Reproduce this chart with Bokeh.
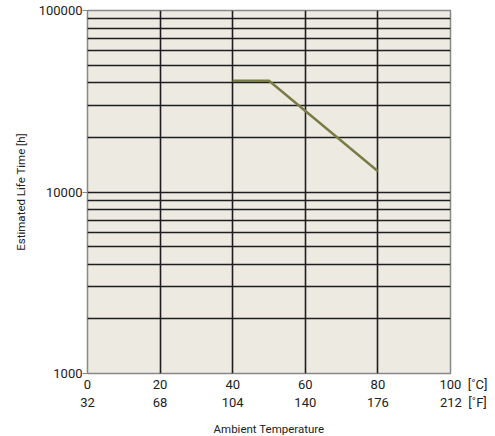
from bokeh.plotting import figure
from bokeh.models import LinearAxis, FixedTicker, Range1d, Grid
from bokeh.embed import file_html
from bokeh.resources import INLINE

# data
temp_c = [40, 50, 80]
life_h = [41000, 41000, 13000]
c_ticks = [0, 20, 40, 60, 80, 100]
c_labels = ["0", "20", "40", "60", "80", "100"]
f_labels = ["32", "68", "104", "140", "176", "212"]
c_unit = "[˚C]"
f_unit = "[˚F]"
y_ticks = [1000, 10000, 100000]
y_labels = ["1000", "10000", "100000"]
y_minor = [2000, 3000, 4000, 5000, 6000, 7000, 8000, 9000,
           20000, 30000, 40000, 50000, 60000, 70000, 80000, 90000]
v_grid = [20, 40, 60, 80]

FONT = "Roboto"
TXT = "#222222"
NB = "\u00a0"

p = figure(y_axis_type="log",
           x_range=Range1d(0, 100), y_range=Range1d(1000, 100000),
           output_backend="svg", toolbar_location=None,
           x_axis_location=None,
           min_border_left=87, min_border_top=10, min_border_right=45,
           min_border_bottom=0)
p.width = None
p.height = None
p.frame_width = 363
p.frame_height = 363
p.background_fill_color = "#EDEAE2"
p.border_fill_color = "white"
p.outline_line_color = "#888888"
p.outline_line_width = 1.5

# y axis
ya = p.yaxis[0]
ya.ticker = FixedTicker(ticks=y_ticks, minor_ticks=y_minor)
ya.major_label_overrides = {t: l for t, l in zip(y_ticks, y_labels)}
ya.axis_label = "Estimated Life Time [h]"
ya.axis_label_text_font = FONT
ya.axis_label_text_font_style = "normal"
ya.axis_label_text_font_size = "11.5px"
ya.axis_label_text_color = TXT
ya.axis_label_standoff = 8
ya.major_label_text_font = FONT
ya.major_label_text_font_size = "13px"
ya.major_label_text_color = TXT
ya.major_tick_in = 0
ya.major_tick_out = 5
ya.major_tick_line_color = "#888888"
ya.minor_tick_line_color = None
ya.axis_line_color = None
ya.major_label_standoff = 0


def with_unit(labels, unit):
    out = list(labels)
    out[-1] = NB * 8 + labels[-1] + NB * 2 + unit
    return out


# x axes: Celsius and Fahrenheit rows
xc = LinearAxis(ticker=FixedTicker(ticks=c_ticks),
                major_label_overrides={t: l for t, l in zip(c_ticks, with_unit(c_labels, c_unit))})
xf = LinearAxis(ticker=FixedTicker(ticks=c_ticks),
                major_label_overrides={t: l for t, l in zip(c_ticks, with_unit(f_labels, f_unit))},
                axis_label="Ambient Temperature")
for ax in (xc, xf):
    ax.axis_line_color = None
    ax.major_tick_line_color = None
    ax.minor_tick_line_color = None
    ax.major_tick_in = 0
    ax.major_tick_out = 0
    ax.major_label_text_font = FONT
    ax.major_label_text_font_size = "13px"
    ax.major_label_text_color = TXT
    ax.major_label_standoff = 0
xc.major_label_standoff = 3
xf.major_label_standoff = 0
xf.axis_label_text_font = FONT
xf.axis_label_text_font_style = "normal"
xf.axis_label_text_font_size = "11.5px"
xf.axis_label_text_color = TXT
xf.axis_label_standoff = 9
p.add_layout(xc, "below")
p.add_layout(xf, "below")

# grid
p.xgrid.visible = False
p.ygrid.visible = False
vg = Grid(dimension=0, ticker=FixedTicker(ticks=v_grid),
          grid_line_color="#1e1e1e", grid_line_width=1.6)
hg = Grid(dimension=1, ticker=FixedTicker(ticks=y_minor + [10000]),
          grid_line_color="#1e1e1e", grid_line_width=1.6)
p.add_layout(vg)
p.add_layout(hg)

p.line(temp_c, life_h, line_color="#7B7B45", line_width=2.5)

open("out.html", "w").write(file_html(p, INLINE))
